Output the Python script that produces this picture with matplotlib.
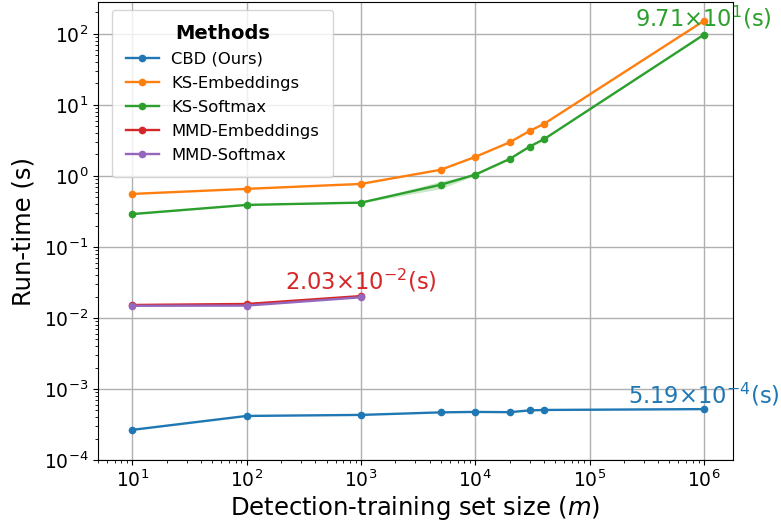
import matplotlib
matplotlib.use("Agg")
import matplotlib.pyplot as plt
import numpy as np

sizes = [10, 100, 1000, 5000, 10000, 20000, 30000, 40000, 1000000]
cbd = [2.65e-4, 4.16e-4, 4.3e-4, 4.67e-4, 4.74e-4, 4.7e-4, 4.98e-4, 5.05e-4, 5.19e-4]
ks_emb = [0.557, 0.656, 0.77, 1.22, 1.85, 2.97, 4.3, 5.4, 152.0]
ks_soft = [0.29, 0.39, 0.42, 0.75, 1.04, 1.73, 2.59, 3.29, 97.1]
ks_soft_lo = [0.285, 0.385, 0.415, 0.66, 1.02, 1.70, 2.55, 3.25, 96.0]
ks_soft_hi = [0.295, 0.395, 0.425, 0.84, 1.06, 1.76, 2.63, 3.33, 98.0]
mmd_sizes = [10, 100, 1000]
mmd_emb = [0.0152, 0.0157, 0.0203]
mmd_soft = [0.0148, 0.0149, 0.0195]

fig, ax = plt.subplots(figsize=(7.81, 5.25), dpi=100)
kw = dict(marker='o', ms=4.5, lw=1.7)
ax.plot(sizes, cbd, color='C0', label='CBD (Ours)', **kw)
ax.plot(sizes, ks_emb, color='C1', label='KS-Embeddings', **kw)
ax.plot(sizes, ks_soft, color='C2', label='KS-Softmax', **kw)
ax.fill_between(sizes, ks_soft_lo, ks_soft_hi, color='C2', alpha=0.25, lw=0)
ax.plot(mmd_sizes, mmd_emb, color='C3', label='MMD-Embeddings', **kw)
ax.plot(mmd_sizes, mmd_soft, color='C4', label='MMD-Softmax', **kw)

ax.set_xscale('log')
ax.set_yscale('log')
ax.set_xlim(5.0, 1.8e6)
ax.set_ylim(1e-4, 280)
ax.grid(True, which='major', color='#b0b0b0', lw=1.0)
ax.tick_params(axis='both', which='major', labelsize=13.5)
ax.set_xlabel('Detection-training set size ($m$)', fontsize=17.5, labelpad=2)
ax.set_ylabel('Run-time (s)', fontsize=17.5, labelpad=6)

ax.text(sizes[-1], ks_soft[-1] * 1.10, r'9.71$\times$10$^{1}$(s)', color='C2',
        fontsize=16.3, ha='center', va='bottom')
ax.text(mmd_sizes[-1], mmd_emb[-1] * 1.05, r'2.03$\times$10$^{-2}$(s)', color='C3',
        fontsize=16.3, ha='center', va='bottom')
ax.text(sizes[-1], cbd[-1] * 1.03, r'5.19$\times$10$^{-4}$(s)', color='C0',
        fontsize=16.3, ha='center', va='bottom')

leg = ax.legend(title='Methods', loc='upper left', fontsize=11.8,
                title_fontproperties={'weight': 'bold', 'size': 14},
                bbox_to_anchor=(0.022, 0.983), borderaxespad=0,
                borderpad=0.85, handlelength=2.0, handletextpad=0.75,
                labelspacing=0.55)

fig.subplots_adjust(left=0.1255, right=0.9385, top=0.996, bottom=0.124)
fig.savefig('out.png', dpi=100)
